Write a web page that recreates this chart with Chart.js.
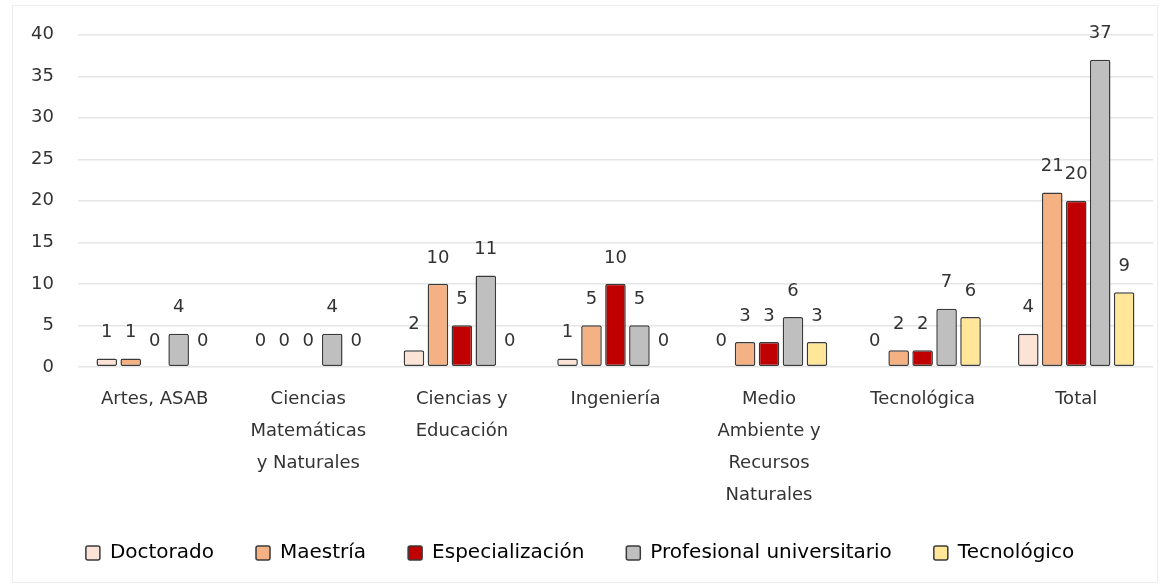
<!DOCTYPE html>
<html>
<head>
<meta charset="utf-8">
<script src="https://cdn.jsdelivr.net/npm/chart.js@4"></script>
<style>
  body { margin: 0; background: #fff; }
  #box { position: absolute; left: 12px; top: 5px; width: 1146px; height: 578px; border: 1px solid #ececec; box-sizing: border-box; }
  canvas { position: absolute; left: 0; top: 0; }
</style>
</head>
<body>
<div id="box"></div>
<canvas id="chart" width="1160" height="585"></canvas>
<script>
const categories = [
    'Artes, ASAB',
    ['Ciencias', 'Matemáticas', 'y Naturales'],
    ['Ciencias y', 'Educación'],
    'Ingeniería',
    ['Medio', 'Ambiente y', 'Recursos', 'Naturales'],
    'Tecnológica',
    'Total'
];
const doctorado = [1, 0, 2, 1, 0, 0, 4];
const maestria = [1, 0, 10, 5, 3, 2, 21];
const especializacion = [0, 0, 5, 10, 3, 2, 20];
const profesional = [4, 4, 11, 5, 6, 7, 37];
const tecnologico = [0, 0, 0, 0, 3, 6, 9];
const yTicks = [0, 5, 10, 15, 20, 25, 30, 35, 40];

const fontFamily = "'DejaVu Sans', sans-serif";

// draws the value above each bar
const valueLabels = {
    id: 'valueLabels',
    afterDatasetsDraw(chart) {
        const ctx = chart.ctx;
        ctx.save();
        ctx.font = '18px ' + fontFamily;
        ctx.fillStyle = '#333';
        ctx.textAlign = 'center';
        ctx.textBaseline = 'middle';
        chart.data.datasets.forEach((ds, i) => {
            chart.getDatasetMeta(i).data.forEach((bar, j) => {
                ctx.fillText(String(ds.data[j]), bar.x, bar.y - 26);
            });
        });
        ctx.restore();
    }
};

function makeSet(label, data, color) {
    return {
        label: label,
        data: data,
        backgroundColor: color,
        borderColor: '#3a3a3a',
        borderWidth: c => (c.raw === 0 ? 0 : 1.5),
        borderRadius: 2,
        borderSkipped: false,
        categoryPercentage: 0.78,
        barPercentage: 0.86
    };
}

new Chart(document.getElementById('chart'), {
    type: 'bar',
    data: {
        labels: categories,
        datasets: [
            makeSet('Doctorado', doctorado, '#fbe3d6'),
            makeSet('Maestría', maestria, '#f4b183'),
            makeSet('Especialización', especializacion, '#c00000'),
            makeSet('Profesional universitario', profesional, '#bfbfbf'),
            makeSet('Tecnológico', tecnologico, '#ffe699')
        ]
    },
    options: {
        responsive: false,
        animation: false,
        layout: { padding: { left: 7, right: 7, top: 24, bottom: 12 } },
        plugins: {
            tooltip: { enabled: false },
            legend: {
                position: 'bottom',
                labels: {
                    font: { family: fontFamily, size: 20 },
                    color: '#333',
                    boxWidth: 14,
                    boxHeight: 14,
                    padding: 42,
                    useBorderRadius: true,
                    borderRadius: 2,
                    generateLabels: chart => chart.data.datasets.map((ds, i) => ({
                        text: ds.label,
                        fillStyle: ds.backgroundColor,
                        strokeStyle: '#3a3a3a',
                        lineWidth: 1.5,
                        borderRadius: 2,
                        datasetIndex: i
                    }))
                }
            }
        },
        scales: {
            x: {
                grid: { display: false },
                border: { display: false },
                afterFit: s => { s.height -= 18; },
                ticks: {
                    color: '#333',
                    font: { family: fontFamily, size: 18, lineHeight: 1.78 },
                    padding: 8,
                    maxRotation: 0,
                    autoSkip: false
                }
            },
            y: {
                min: 0,
                max: 40,
                afterBuildTicks: axis => { axis.ticks = yTicks.map(v => ({ value: v })); },
                grid: { color: '#e6e6e6', lineWidth: 1.5, drawTicks: false },
                border: { display: false },
                ticks: {
                    color: '#333',
                    font: { family: fontFamily, size: 18 },
                    padding: 24
                }
            }
        }
    },
    plugins: [valueLabels]
});
</script>
</body>
</html>
